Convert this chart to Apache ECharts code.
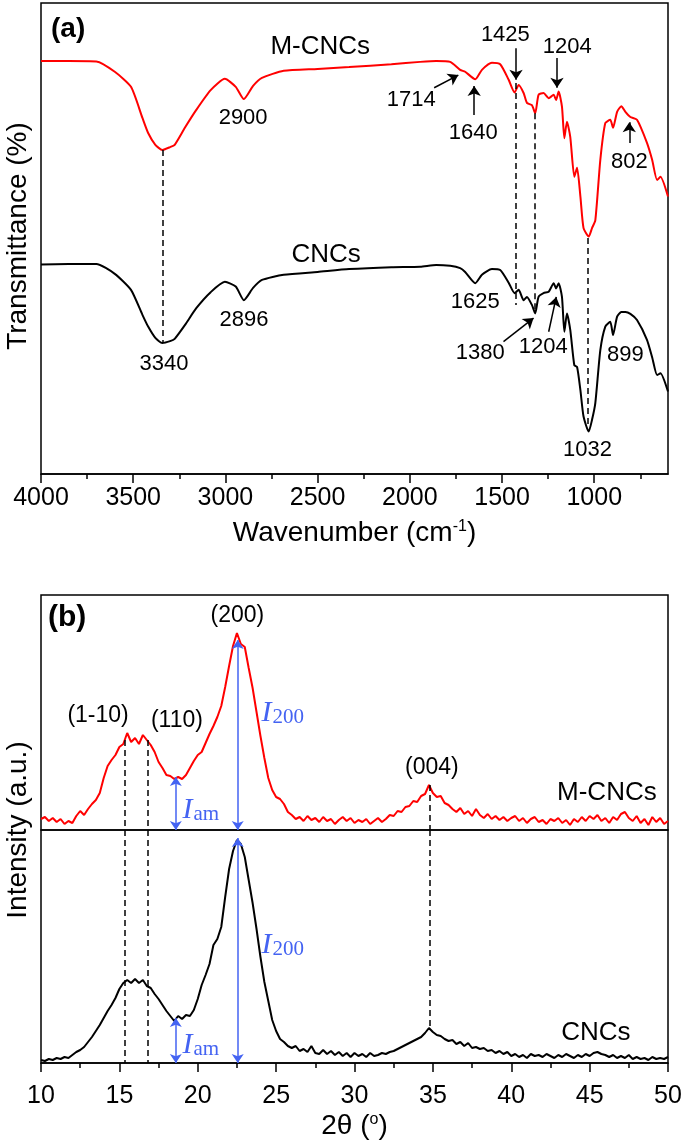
<!DOCTYPE html>
<html><head><meta charset="utf-8">
<script src="https://cdn.jsdelivr.net/npm/echarts@6/dist/echarts.min.js"></script>
<style>html,body{margin:0;padding:0;background:#fff}#c{width:685px;height:1145px}</style>
</head><body><div id="c"></div>
<script>
// ---------- (a) FTIR ----------
const ftirWavenumbers = [4000,3850,3700,3600,3512,3450,3419,3380,3342,3300,3275,3220,3158,3080,3003,2944,2900,2850,2802,2684,2500,2329,2100,1944,1857,1781,1727,1700,1645,1609,1555,1510,1464,1432,1410,1383,1365,1338,1320,1302,1275,1247,1220,1207,1193,1175,1162,1148,1130,1108,1093,1075,1058,1030,1012,994,967,940,913,898,876,853,831,804,768,714,686,659,641,600];
const ftirMCNCs = [87.7,87.7,87.6,85.4,82.2,75.6,72.4,69.9,68.8,69.4,69.9,73.5,77.3,81.5,83.9,82.2,79.6,82.4,84.1,85.6,86.0,86.4,87.0,87.5,87.7,87.5,85.8,85.4,83.8,85.8,87.3,87.0,83.7,81.0,82.6,80.9,78.8,78.3,76.6,80.5,80.9,79.8,80.5,79.4,81.2,78.0,71.3,74.8,71.6,63.1,65.0,58.9,52.2,50.4,52.2,53.9,66.7,74.5,75.2,73.5,76.9,78.1,76.9,75.8,75.2,70.3,66.7,62.4,63.1,58.9];
const ftirCNCs = [44.5,44.6,44.6,42.5,39.1,33.8,31.3,28.9,27.8,28.2,28.7,31.6,35.2,38.6,40.8,39.8,36.9,39.5,41.2,42.3,42.9,43.5,43.9,44.0,44.4,44.2,43.7,42.9,40.5,42.3,43.5,43.3,40.6,38.4,39.1,36.9,37.6,35.9,34.1,37.6,38.4,38.7,40.5,39.4,40.5,37.6,30.2,34.1,30.6,23.1,22.7,17.8,12.2,9.0,11.5,15.1,26.3,31.3,32.3,29.5,33.4,34.4,34.4,34.0,32.7,28.5,24.8,21.0,21.4,17.5];
const ftirTickLabels = [4000,3500,3000,2500,2000,1500,1000];
const ftirMinorTicks = [3750,3250,2750,2250,1750,1250,750];
// [wavenumber, upper T, lower T]
const ftirDashed = [[3342,68.8,27.8],[1424,83.0,35.9],[1320,76.6,34.8],[1034,50.1,10.0]];
// [x1,y1,x2,y2] arrow tail -> head
const ftirArrows = [[1868,82.0,1737,84.7],[1651,76.2,1651,82.4],[1424,90.4,1424,83.7],[1202,88.3,1202,82.0],[810,70.3,810,74.7],[1492,28.1,1329,33.1],[1247,30.2,1206,37.6]];
const ftirSampleLabels = [[2486,90.7,'M-CNCs'],[2454,46.5,'CNCs']];
const ftirPeakLabels = [[2904,75.6,'2900'],[1992,79.4,'1714'],[1656,72.4,'1640'],[1482,93.2,'1425'],[1146,90.7,'1204'],[810,66.2,'802'],[3333,23.4,'3340'],[2899,32.7,'2896'],[1645,36.5,'1625'],[1618,25.7,'1380'],[1276,27.0,'1204'],[831,25.3,'899'],[1037,5.1,'1032']];

// ---------- (b) XRD ----------
const xrdStart = 10, xrdStep = 0.25;
const xrdMCNCs = [
 11,13,9,12,8,11,6,9,7,14,19,15,21,26,30,37,52,64,70,75,
 83,86,97,88,92,86,95,90,85,78,68,62,55,54,51,53,51,55,62,69,
 75,78,87,96,104,113,124,143,164,184,197,186,183,162,142,118,94,72,52,40,
 33,31,26,18,15,11,13,9,14,10,12,8,13,9,11,6,10,13,9,12,
 7,10,8,11,6,9,12,8,11,15,14,19,18,23,24,29,28,34,36,45,
 37,33,34,27,25,21,18,22,16,19,14,21,15,12,16,11,14,10,13,9,
 12,14,9,12,7,11,13,8,10,6,11,9,12,7,10,5,11,8,13,9,
 14,11,15,9,12,7,13,10,16,18,12,9,14,7,11,5,13,8,12,6,
 9];
const xrdCNCs = [
 3,2,4,3,5,4,6,5,8,11,13,16,21,26,32,38,45,52,58,65,
 74,80,83,80,84,80,83,77,75,69,64,58,52,47,42,47,44,48,47,53,
 64,78,88,99,118,124,136,166,194,212,223,219,206,183,160,134,106,81,62,43,
 32,24,21,17,15,17,12,14,11,17,10,9,13,9,12,8,11,7,10,6,
 10,7,9,6,10,7,8,10,9,11,12,14,16,18,20,22,24,26,30,35,
 31,28,27,24,22,23,19,21,17,20,15,16,14,15,12,13,10,12,9,11,
 7,9,6,8,5,9,7,8,6,9,7,5,8,6,9,7,5,8,6,9,
 7,10,11,9,8,6,8,5,7,5,8,4,6,4,5,3,6,4,5,4,
 6];
const xrdTopDashed = [[15.36,90,0],[16.8,90,0],[34.8,45,0]];
const xrdBottomDashed = [[15.36,233,0],[16.8,233,0],[34.8,233,35]];
const xrdTopArrows = [[22.55,0,190],[18.6,0,53]];
const xrdBottomArrows = [[22.55,0,225],[18.6,0,45]];
const xrdPlaneLabels = [[13.64,114,'(1-10)'],[18.67,109,'(110)'],[22.53,214,'(200)'],[34.94,62,'(004)']];
const xrdTopSampleLabels = [[46.1,37,'M-CNCs']];
const xrdBottomSampleLabels = [[45.4,30,'CNCs']];
const xrdTopIntensity = [[25.43,117,'{i|I}{s|200}'],[20.2,20,'{i|I}{s|am}']];
const xrdBottomIntensity = [[25.43,118,'{i|I}{s|200}'],[20.2,18,'{i|I}{s|am}']];

const SANS = 'Liberation Sans, Arial, sans-serif';
const SERIF = 'Liberation Serif, Times New Roman, serif';
const BLUE = '#4463f2';

const pairs = (xs, ys) => xs.map((x, i) => [x, ys[i]]);
const xrdPairs = ys => ys.map((v, i) => [xrdStart + i * xrdStep, v]);
const dashedLines = arr => arr.map(d => [{coord: [d[0], d[1]]}, {coord: [d[0], d[2]]}]);
const arrowLines = arr => arr.map(d => [{coord: [d[0], d[1]]}, {coord: [d[2], d[3]]}]);
const vArrows = arr => arr.map(d => [{coord: [d[0], d[1]]}, {coord: [d[0], d[2]]}]);

function textSeries(xi, yi, data, size, color, extra) {
  return {
    type: 'scatter', xAxisIndex: xi, yAxisIndex: yi, silent: true, z: 10,
    symbol: 'circle', symbolSize: 0, itemStyle: {color: color, opacity: 1},
    labelLayout: {hideOverlap: false},
    data: data.map(d => ({value: [d[0], d[1]], name: d[2]})),
    label: Object.assign({
      show: true, position: 'inside', formatter: p => p.name, opacity: 1,
      fontFamily: SANS, fontSize: size, color: color, textBorderWidth: 0
    }, extra || {})
  };
}

const intensityRich = {
  rich: {
    i: {fontFamily: SERIF, fontStyle: 'italic', fontSize: 30, color: BLUE},
    s: {fontFamily: SERIF, fontSize: 21, color: BLUE, verticalAlign: 'bottom', padding: [0, 0, 0, 1]}
  }
};

const chart = echarts.init(document.getElementById('c'), null, {renderer: 'canvas'});
chart.setOption({
  animation: false,
  backgroundColor: '#fff',
  grid: [
    {left: 41, top: 3, width: 627, height: 471, show: true, borderColor: '#000', borderWidth: 1.5},
    {left: 41, top: 595, width: 627, height: 235, show: true, borderColor: '#000', borderWidth: 1.5},
    {left: 41, top: 830, width: 627, height: 233, show: true, borderColor: '#000', borderWidth: 1.5}
  ],
  xAxis: [
    {type: 'value', gridIndex: 0, position: 'bottom', min: 600, max: 4000, inverse: true,
     axisLine: {lineStyle: {color: '#000', width: 1.5}},
     axisTick: {show: true, length: 9, customValues: ftirTickLabels, lineStyle: {color: '#000', width: 1.5}},
     axisLabel: {customValues: ftirTickLabels, formatter: v => String(v), margin: 12, fontFamily: SANS, fontSize: 25, color: '#000'},
     splitLine: {show: false},
     name: '{n|Wavenumber (cm}{sup|-1}{n|)}', nameLocation: 'middle', nameGap: 45,
     nameTextStyle: {rich: {n: {fontFamily: SANS, fontSize: 28, color: '#000'}, sup: {fontFamily: SANS, fontSize: 16, color: '#000', verticalAlign: 'top'}}}
    },
    {type: 'value', gridIndex: 0, position: 'bottom', offset: 0, min: 600, max: 4000, inverse: true,
     axisLine: {show: false},
     axisTick: {show: true, length: 5, customValues: ftirMinorTicks, lineStyle: {color: '#000', width: 1.5}},
     axisLabel: {show: false}, splitLine: {show: false}
    },
    {type: 'value', gridIndex: 1, position: 'bottom', min: 10, max: 50, interval: 5,
     axisLine: {show: false}, axisTick: {show: false}, axisLabel: {show: false}, splitLine: {show: false}
    },
    {type: 'value', gridIndex: 2, position: 'bottom', min: 10, max: 50, interval: 5,
     axisLine: {lineStyle: {color: '#000', width: 1.5}},
     axisTick: {show: true, length: 9, lineStyle: {color: '#000', width: 1.5}},
     minorTick: {show: true, splitNumber: 2, length: 5, lineStyle: {color: '#000', width: 1.5}},
     axisLabel: {margin: 21, fontFamily: SANS, fontSize: 25, color: '#000'},
     splitLine: {show: false},
     name: '{n|2θ (}{sup|o}{n|)}', nameLocation: 'middle', nameGap: 49,
     nameTextStyle: {rich: {n: {fontFamily: SANS, fontSize: 28, color: '#000'}, sup: {fontFamily: SANS, fontSize: 16, color: '#000', verticalAlign: 'top'}}}
    }
  ],
  yAxis: [
    {type: 'value', gridIndex: 0, min: 0, max: 100, show: false},
    {type: 'value', gridIndex: 1, min: 0, max: 235, show: false},
    {type: 'value', gridIndex: 2, min: 0, max: 233, show: false}
  ],
  graphic: [
    {type: 'text', left: 51, top: 15, style: {text: '(a)', font: 'bold 28px ' + SANS, fill: '#000'}},
    {type: 'text', left: 48, top: 603, style: {text: '(b)', font: 'bold 30px ' + SANS, fill: '#000'}},
    {type: 'text', x: 18, y: 236, rotation: Math.PI / 2,
     style: {text: 'Transmittance (%)', font: '28px ' + SANS, fill: '#000', align: 'center', verticalAlign: 'middle'}},
    {type: 'text', x: 18, y: 830, rotation: Math.PI / 2,
     style: {text: 'Intensity (a.u.)', font: '28px ' + SANS, fill: '#000', align: 'center', verticalAlign: 'middle'}}
  ],
  series: [
    {type: 'line', name: 'M-CNCs', xAxisIndex: 0, yAxisIndex: 0, data: pairs(ftirWavenumbers, ftirMCNCs),
     showSymbol: false, symbol: 'none', smooth: 0.2, lineStyle: {color: '#ff0000', width: 2}, silent: true,
     markLine: {silent: true, symbol: ['none', 'none'], label: {show: false},
       lineStyle: {color: '#000', width: 1.5, type: [6, 4]}, data: dashedLines(ftirDashed)}},
    {type: 'line', name: 'CNCs', xAxisIndex: 0, yAxisIndex: 0, data: pairs(ftirWavenumbers, ftirCNCs),
     showSymbol: false, symbol: 'none', smooth: 0.2, lineStyle: {color: '#000', width: 2}, silent: true,
     markLine: {silent: true, symbol: ['none', 'arrow'], symbolSize: 10, label: {show: false},
       lineStyle: {color: '#000', width: 1.5, type: 'solid'}, data: arrowLines(ftirArrows)}},
    textSeries(0, 0, ftirSampleLabels, 26, '#000'),
    textSeries(0, 0, ftirPeakLabels, 22, '#000'),

    {type: 'line', name: 'M-CNCs XRD', xAxisIndex: 2, yAxisIndex: 1, data: xrdPairs(xrdMCNCs),
     showSymbol: false, symbol: 'none', lineStyle: {color: '#ff0000', width: 2}, silent: true,
     markLine: {silent: true, symbol: ['none', 'none'], label: {show: false},
       lineStyle: {color: '#000', width: 1.5, type: [6, 4]}, data: dashedLines(xrdTopDashed)}},
    {type: 'line', name: 'M-CNCs arrows', xAxisIndex: 2, yAxisIndex: 1, data: [],
     markLine: {silent: true, symbol: ['arrow', 'arrow'], symbolSize: 9, label: {show: false},
       lineStyle: {color: BLUE, width: 1.5, type: 'solid'}, data: vArrows(xrdTopArrows)}},
    {type: 'line', name: 'CNCs XRD', xAxisIndex: 3, yAxisIndex: 2, data: xrdPairs(xrdCNCs),
     showSymbol: false, symbol: 'none', lineStyle: {color: '#000', width: 2}, silent: true,
     markLine: {silent: true, symbol: ['none', 'none'], label: {show: false},
       lineStyle: {color: '#000', width: 1.5, type: [6, 4]}, data: dashedLines(xrdBottomDashed)}},
    {type: 'line', name: 'CNCs arrows', xAxisIndex: 3, yAxisIndex: 2, data: [],
     markLine: {silent: true, symbol: ['arrow', 'arrow'], symbolSize: 9, label: {show: false},
       lineStyle: {color: BLUE, width: 1.5, type: 'solid'}, data: vArrows(xrdBottomArrows)}},
    textSeries(2, 1, xrdPlaneLabels, 23, '#000'),
    textSeries(2, 1, xrdTopSampleLabels, 26, '#000'),
    textSeries(3, 2, xrdBottomSampleLabels, 26, '#000'),
    textSeries(2, 1, xrdTopIntensity, 30, BLUE, intensityRich),
    textSeries(3, 2, xrdBottomIntensity, 30, BLUE, intensityRich)
  ]
});
</script>
</body></html>
